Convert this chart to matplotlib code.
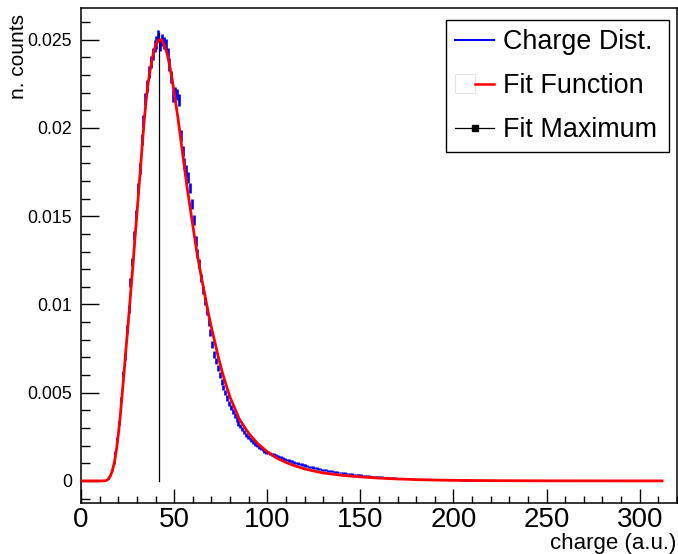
import numpy as np
import matplotlib
matplotlib.use("Agg")
import matplotlib.pyplot as plt
from matplotlib.lines import Line2D
from matplotlib.patches import Rectangle
from matplotlib.legend_handler import HandlerTuple
from matplotlib.ticker import MultipleLocator, FixedLocator, FixedFormatter

plt.rcParams['font.family'] = ['Liberation Sans', 'DejaVu Sans']

# ---------------- data ----------------
bin_low, bin_high, n_bins = 0.0, 320.0, 320
n_entries = 200000            # used for the statistical error bars

# normalised counts per 1-unit bin, in units of 1e-5 (bin 0 .. 319)
counts_e5 = [
    0, 0, 0, 0, 0, 0, 0, 0, 0, 0,                                  # 0-9
    0, 0, 0, 4, 13, 30, 60, 102, 158, 240,                          # 10-19
    328, 462, 605, 705, 860, 975, 1125, 1240, 1390, 1510,           # 20-29
    1660, 1770, 1935, 2040, 2165, 2240, 2315, 2375, 2420, 2465,     # 30-39
    2485, 2520, 2470, 2500, 2480, 2470, 2420, 2360, 2290, 2180,     # 40-49
    2200, 2190, 2160, 1960, 1870, 1800, 1760, 1720, 1660, 1570,     # 50-59
    1480, 1360, 1290, 1230, 1150, 1080, 1020, 960, 900, 840,        # 60-69
    775, 715, 680, 640, 600, 560, 530, 500, 470, 440,               # 70-79
    415, 395, 372, 348, 325, 310, 293, 278, 262, 250,               # 80-89
    240, 229, 220, 210, 200, 192, 184, 177, 170, 164,               # 90-99
    160, 156, 152, 147, 143, 139, 135, 131, 127, 123,               # 100-109
    119, 116, 112, 109, 105, 102, 99, 96, 93, 90,                   # 110-119
    87, 84, 81, 79, 76, 73, 71, 69, 66, 64,                         # 120-129
    62, 60, 58, 56, 55, 53, 51, 50, 48, 47,                         # 130-139
    45, 44, 42, 41, 40, 38, 37, 36, 35, 34,                         # 140-149
    33, 31, 30, 29, 28, 27, 26, 25, 25, 24,                         # 150-159
    23, 22, 21, 20, 20, 19, 18, 17, 17, 16,                         # 160-169
    15, 15, 14, 14, 13, 12, 12, 11, 11, 10,                         # 170-179
    10, 10, 9, 9, 8, 8, 8, 7, 7, 7,                                 # 180-189
    6, 6, 6, 6, 5, 5, 5, 5, 4, 4,                                   # 190-199
    4, 4, 4, 3, 3, 3, 3, 3, 3, 2,                                   # 200-209
    2, 2, 2, 2, 2, 2, 2, 2, 1, 1,                                   # 210-219
    1, 1, 1, 1, 1, 1, 1, 1, 1, 1,                                   # 220-229
    1, 1, 1, 1, 1, 1, 1, 1, 1, 1,                                   # 230-239
    1, 1, 1, 1, 1, 0, 1, 0, 1, 0,                                   # 240-249
    0, 1, 0, 0, 1, 0, 0, 0, 1, 0,                                   # 250-259
    0, 0, 0, 0, 0, 0, 0, 0, 0, 0,                                   # 260-269
    0, 0, 0, 0, 0, 0, 0, 0, 0, 0,                                   # 270-279
    0, 0, 0, 0, 0, 0, 0, 0, 0, 0,                                   # 280-289
    0, 0, 0, 0, 0, 0, 0, 0, 0, 0,                                   # 290-299
    0, 0, 0, 0, 0, 0, 0, 0, 0, 0,                                   # 300-309
    0, 0, 0, 0, 0, 0, 0, 0, 0, 0,                                   # 310-319
]

# fit function samples (x in a.u., y in units of 1e-3)
fit_x = [0, 12, 13, 14, 15, 16, 17, 18, 19, 20, 21, 22, 23, 24, 25, 26, 27, 28,
         29, 30, 31, 32, 33, 34, 35, 36, 37, 38, 39, 40, 41, 42, 43, 44, 45,
         46, 47, 48, 49, 50, 51, 52, 53, 54, 55, 56, 57, 58, 59, 60, 62, 64,
         66, 68, 70, 72, 74, 76, 78, 80, 85, 90, 95, 100, 105, 110, 115, 120,
         130, 140, 150, 160, 170, 180, 190, 200, 220, 250, 280, 312]
fit_y = [0, 0, 0.01, 0.05, 0.15, 0.35, 0.65, 1.1, 1.75, 2.6, 3.6, 4.8, 6.0,
         7.3, 8.5, 9.8, 11.1, 12.4, 13.8, 15.1, 16.5, 17.8, 19.2, 20.5, 21.6,
         22.5, 23.2, 23.8, 24.3, 24.65, 24.9, 25.0, 25.0, 24.85, 24.6, 24.3,
         23.85, 23.3, 22.7, 22.0, 21.3, 20.6, 19.8, 19.0, 18.2, 17.4, 16.6,
         15.9, 15.2, 14.5, 13.1, 11.9, 10.8, 9.7, 8.7, 7.8, 6.9, 6.1, 5.4,
         4.75, 3.5, 2.7, 2.1, 1.65, 1.3, 1.05, 0.85, 0.68, 0.45, 0.32, 0.23,
         0.16, 0.11, 0.075, 0.05, 0.033, 0.015, 0.005, 0.002, 0.001]

fit_max_x = 41.8
fit_max_top = 0.0254

x_tick_values = [0, 50, 100, 150, 200, 250, 300]
y_tick_values = [0, 0.005, 0.01, 0.015, 0.02, 0.025]
y_tick_labels = ["0", "0.005", "0.01", "0.015", "0.02", "0.025"]

legend_labels = ["Charge Dist.", "Fit Function", "Fit Maximum"]
x_label = "charge (a.u.)"
y_label = "n. counts"

# ---------------- figure ----------------
fig = plt.figure(figsize=(6.78, 5.54), dpi=100)
ax = fig.add_axes([0.1195, 0.0921, 0.879, 0.8935])

edges = np.linspace(bin_low, bin_high, n_bins + 1)
centers = 0.5 * (edges[:-1] + edges[1:])
vals = np.array(counts_e5, dtype=float) * 1e-5
errs = np.sqrt(vals / n_entries)
m = vals > 0
ax.errorbar(centers[m], vals[m], yerr=errs[m], fmt='none',
            ecolor='#0000ff', elinewidth=1.9, capsize=0, zorder=2)

ax.plot([fit_max_x, fit_max_x], [0, fit_max_top], color='black', lw=0.9, zorder=3)
ax.plot(fit_x, np.array(fit_y) * 1e-3, color='#ff0000', lw=2.0, zorder=4)

ax.set_xlim(0, 320)
ax.set_ylim(-0.00125, 0.0268)

ax.xaxis.set_major_locator(FixedLocator(x_tick_values))
ax.xaxis.set_minor_locator(MultipleLocator(10))
ax.yaxis.set_major_locator(FixedLocator(y_tick_values))
ax.yaxis.set_major_formatter(FixedFormatter(y_tick_labels))
ax.yaxis.set_minor_locator(MultipleLocator(0.001))

ax.tick_params(which='both', direction='in', top=False, right=False, color='black', width=1.0)
ax.tick_params(axis='x', which='major', length=10, labelsize=20, pad=3)
ax.tick_params(axis='x', which='minor', length=5)
ax.tick_params(axis='y', which='major', length=13, labelsize=12.7, pad=6.5)
ax.tick_params(axis='y', which='minor', length=6.5)
for s in ax.spines.values():
    s.set_linewidth(1.1)

fig.text(0.997, 1 - 543 / 554, x_label, ha='right', va='center', fontsize=16)
fig.text(18 / 678, 1 - 14 / 554, y_label, rotation=90, ha='center', va='top', fontsize=15)

h_blue = Line2D([], [], color='#0000ff', lw=1.5)
h_red = (Rectangle((0, 0), 1, 1, facecolor='white', edgecolor='#e4e4e4', lw=0.8),
         Line2D([], [], color='#ff0000', lw=1.8))
h_black = Line2D([], [], color='black', lw=0.9, marker='s', markersize=4)
leg = ax.legend([h_blue, h_red, h_black], legend_labels,
                handler_map={tuple: HandlerTuple(ndivide=None, pad=0)},
                loc='upper left', bbox_to_anchor=(0.6124, 0.5, 0.3742, 0.4758),
                mode='expand', borderaxespad=0, fontsize=19.4, frameon=True,
                fancybox=False, framealpha=1, edgecolor='black',
                handlelength=1.45, handletextpad=0.33, labelspacing=0.66,
                borderpad=0.35)
leg.get_frame().set_linewidth(1.0)

fig.savefig("out.png", dpi=100)
